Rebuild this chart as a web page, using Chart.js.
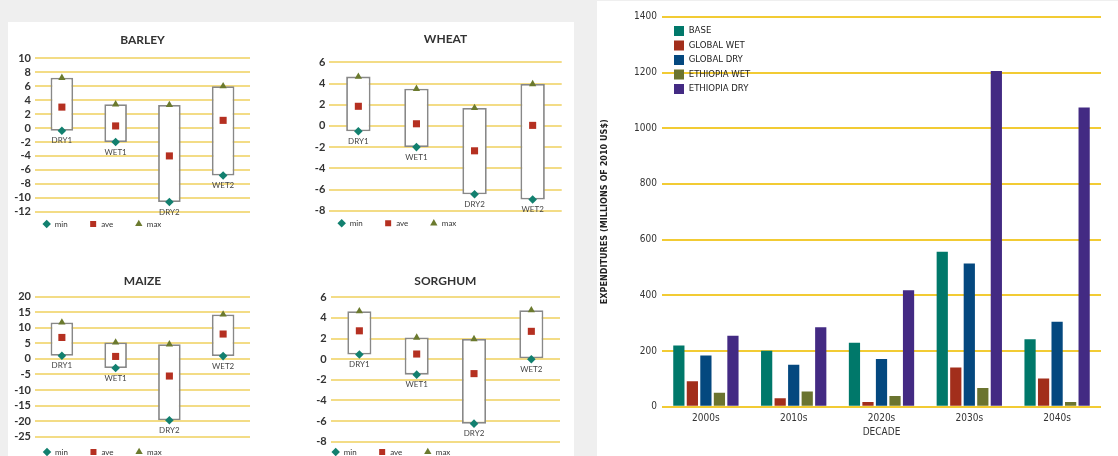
<!DOCTYPE html>
<html><head><meta charset="utf-8">
<script src="https://cdn.jsdelivr.net/npm/chart.js@4.4.0/dist/chart.umd.min.js"></script>
<style>
html,body{margin:0;padding:0;background:#efefef;width:1118px;height:456px;overflow:hidden;position:relative;}
.panel{position:absolute;background:#fff;}
canvas{position:absolute;}
</style></head><body>
<div class="panel" style="left:8px;top:22px;width:566px;height:434px"></div>
<div class="panel" style="left:597px;top:1px;width:521px;height:455px"></div>
<canvas id="barley"></canvas>
<canvas id="wheat"></canvas>
<canvas id="maize"></canvas>
<canvas id="sorghum"></canvas>
<canvas id="spend"></canvas>
<script>
// ---------- data ----------
const cropCategories = ['DRY1', 'WET1', 'DRY2', 'WET2'];
const legendNames = ['min', 'ave', 'max'];

const barleyMin = [-0.4, -2.0, -10.6, -6.8];
const barleyAve = [3.0, 0.3, -4.0, 1.1];
const barleyMax = [7.2, 3.4, 3.3, 6.0];

const wheatMin = [-0.5, -2.0, -6.45, -6.95];
const wheatAve = [1.85, 0.2, -2.35, 0.05];
const wheatMax = [4.65, 3.5, 1.7, 3.95];

const maizeMin = [1.0, -2.9, -19.7, 0.9];
const maizeAve = [6.9, 0.8, -5.5, 8.0];
const maizeMax = [11.7, 5.3, 4.7, 14.3];

const sorghumMin = [0.45, -1.5, -6.25, 0.0];
const sorghumAve = [2.75, 0.5, -1.4, 2.7];
const sorghumMax = [4.65, 2.1, 1.95, 4.75];

const decades = ['2000s', '2010s', '2020s', '2030s', '2040s'];
const scenarioNames = ['BASE', 'GLOBAL WET', 'GLOBAL DRY', 'ETHIOPIA WET', 'ETHIOPIA DRY'];
const baseSpend = [220, 201, 230, 556, 242];
const globalWetSpend = [91, 30, 17, 141, 101];
const globalDrySpend = [184, 151, 171, 514, 305];
const ethiopiaWetSpend = [50, 55, 38, 67, 17];
const ethiopiaDrySpend = [255, 285, 418, 1205, 1074];

// ---------- styles ----------
const SANS = "Lato, 'Open Sans', sans-serif";
const NARROW = "'Liberation Sans Narrow', 'Arial Narrow', 'DejaVu Sans Condensed', sans-serif";
const TEAL = '#12806f', RED = '#b53021', OLIVE = '#6b7a2e';
const GRID_SMALL = '#f3dc86';
const GRID_BIG = '#f2cb34';
const SCEN_COLORS = ['#00786a', '#a22e1b', '#04487f', '#6b742f', '#432a83'];

// place the legend box at an exact spot (canvas coordinates)
const legendPlace = {
  id: 'legendPlace',
  afterLayout(chart, args, o) {
    const lg = chart.legend;
    if (!lg || o.left === undefined) return;
    const w = lg.width;
    const h = o.height || lg.height;
    lg.left = o.left; lg.right = o.left + w;
    lg.top = o.top; lg.bottom = o.top + h;
    lg.height = h;
  }
};

// category names written just below each box
const boxLabels = {
  id: 'boxLabels',
  afterDatasetsDraw(chart) {
    const {ctx, scales: {x, y}} = chart;
    const box = chart.data.datasets[0].data;
    ctx.save();
    ctx.font = '8px ' + SANS;
    ctx.fillStyle = '#444';
    ctx.textAlign = 'center';
    ctx.textBaseline = 'middle';
    chart.data.labels.forEach((lab, i) => {
      ctx.fillText(lab, x.getPixelForValue(i), y.getPixelForValue(box[i][0]) + 10);
    });
    ctx.restore();
  }
};

function smallChart(id, g, title, mins, aves, maxs, yMin, yMax, step) {
  const cv = document.getElementById(id);
  cv.width = g.cw; cv.height = g.ch;
  cv.style.left = g.cx + 'px'; cv.style.top = g.cy + 'px';
  const L = g.L - g.cx, R = g.R - g.cx, T = g.T - g.cy, B = g.B - g.cy;
  const tY = g.titleY - g.cy;
  const titleLH = 12 * 1.2;
  const LEG_P = 21.5, LEG_FS = 8, LEG_H = 12, padL = 4;
  return new Chart(cv, {
    type: 'bar',
    data: {
      labels: cropCategories,
      datasets: [
        {type: 'bar', label: 'range', data: cropCategories.map((c, i) => [mins[i], maxs[i]]),
         backgroundColor: '#ffffff', borderColor: '#888888', borderWidth: 1.8, borderSkipped: false,
         barPercentage: 0.42, categoryPercentage: 1, order: 4},
        {type: 'line', label: legendNames[0], data: mins, showLine: false, pointStyle: 'rectRot', pointRadius: 4.3,
         pointBackgroundColor: TEAL, pointBorderWidth: 0, backgroundColor: TEAL, borderColor: TEAL, order: 1, clip: false},
        {type: 'line', label: legendNames[1], data: aves, showLine: false, pointStyle: 'rect', pointRadius: 5,
         pointBackgroundColor: RED, pointBorderWidth: 0, backgroundColor: RED, borderColor: RED, order: 2, clip: false},
        {type: 'line', label: legendNames[2], data: maxs, showLine: false, pointStyle: 'triangle', pointRadius: 4.2,
         pointBackgroundColor: OLIVE, pointBorderWidth: 0, backgroundColor: OLIVE, borderColor: OLIVE, order: 3, clip: false}
      ]
    },
    options: {
      responsive: false, animation: false, devicePixelRatio: 1,
      layout: {padding: {left: padL, right: g.cw - R, top: 0, bottom: g.ch - B - LEG_H}},
      plugins: {
        title: {display: true, text: title, fullSize: false, font: {family: SANS, size: 12, weight: 'bold'},
                color: '#333', padding: {top: tY - titleLH / 2, bottom: T - tY - titleLH / 2}},
        legend: {display: true, position: 'bottom', align: 'start', fullSize: false, maxHeight: LEG_H,
                 labels: {usePointStyle: true, boxHeight: 6, padding: LEG_P, font: {family: SANS, size: LEG_FS},
                          color: '#333', filter: (it) => it.datasetIndex > 0}},
        legendPlace: {left: g.legX - g.cx - LEG_P - LEG_FS / 2, top: g.legY - g.cy - LEG_P - LEG_FS / 2, height: 60},
        tooltip: {enabled: false}
      },
      scales: {
        x: {display: false},
        y: {min: yMin, max: yMax,
            ticks: {stepSize: step, autoSkip: false, padding: 4, font: {family: SANS, size: 11, weight: 'bold'}, color: '#333'},
            grid: {color: GRID_SMALL, lineWidth: 2, drawTicks: false},
            border: {display: false},
            afterFit(s) { s.width = L - padL; }}
      }
    },
    plugins: [legendPlace, boxLabels]
  });
}

smallChart('barley', {cx: 8, cy: 22, cw: 280, ch: 214, L: 35, T: 58.3, R: 250, B: 211.7, titleY: 40, legX: 46.7, legY: 224},
  'BARLEY', barleyMin, barleyAve, barleyMax, -12, 10, 2);
smallChart('wheat', {cx: 290, cy: 22, cw: 282, ch: 214, L: 329.3, T: 62.3, R: 561.7, B: 210.7, titleY: 39, legX: 341.7, legY: 223.3},
  'WHEAT', wheatMin, wheatAve, wheatMax, -8, 6, 2);
smallChart('maize', {cx: 8, cy: 258, cw: 280, ch: 198, L: 35, T: 296.7, R: 250, B: 436.7, titleY: 280.7, legX: 47, legY: 452},
  'MAIZE', maizeMin, maizeAve, maizeMax, -25, 20, 5);
smallChart('sorghum', {cx: 290, cy: 258, cw: 282, ch: 198, L: 330.7, T: 297.3, R: 560, B: 441.7, titleY: 280.7, legX: 335.7, legY: 452},
  'SORGHUM', sorghumMin, sorghumAve, sorghumMax, -8, 6, 2);

// ---------- right bar chart ----------
(function () {
  const cv = document.getElementById('spend');
  cv.width = 521; cv.height = 455;
  cv.style.left = '597px'; cv.style.top = '1px';
  const series = [baseSpend, globalWetSpend, globalDrySpend, ethiopiaWetSpend, ethiopiaDrySpend];
  new Chart(cv, {
    type: 'bar',
    data: {
      labels: decades,
      datasets: series.map((d, i) => ({
        label: scenarioNames[i], data: d, backgroundColor: SCEN_COLORS[i], borderWidth: 0,
        categoryPercentage: 0.77, barPercentage: 0.83
      }))
    },
    options: {
      responsive: false, animation: false, devicePixelRatio: 1,
      layout: {padding: {left: 0, top: 15.8, right: 17, bottom: 0}},
      plugins: {
        legend: {position: 'chartArea', align: 'start',
                 labels: {boxWidth: 10, boxHeight: 10, padding: 4.5, font: {family: NARROW, size: 9.5}, color: '#222'}},
        legendPlace: {left: 72.5, top: 20.5, height: 120},
        tooltip: {enabled: false}
      },
      scales: {
        x: {grid: {display: false, drawTicks: false}, border: {display: false},
            ticks: {padding: 6, font: {family: NARROW, size: 10}, color: '#333'},
            title: {display: true, text: 'DECADE', font: {family: NARROW, size: 10}, color: '#333', padding: {top: 0, bottom: 17.3}},
            afterFit(s) { s.height = 49.3; }},
        y: {min: 0, max: 1400,
            ticks: {stepSize: 200, padding: 5, font: {family: NARROW, size: 10}, color: '#333',
                    callback: (v) => String(v)},
            grid: {color: GRID_BIG, lineWidth: 2, drawTicks: false},
            border: {display: false},
            title: {display: true, text: 'EXPENDITURES (MILLIONS OF 2010 US$)', font: {family: NARROW, size: 9, weight: 'bold'},
                    color: '#222', padding: {top: 2.6, bottom: 0}},
            afterFit(s) { s.width = 65; }}
      }
    },
    plugins: [legendPlace]
  });
})();
</script>
</body></html>
